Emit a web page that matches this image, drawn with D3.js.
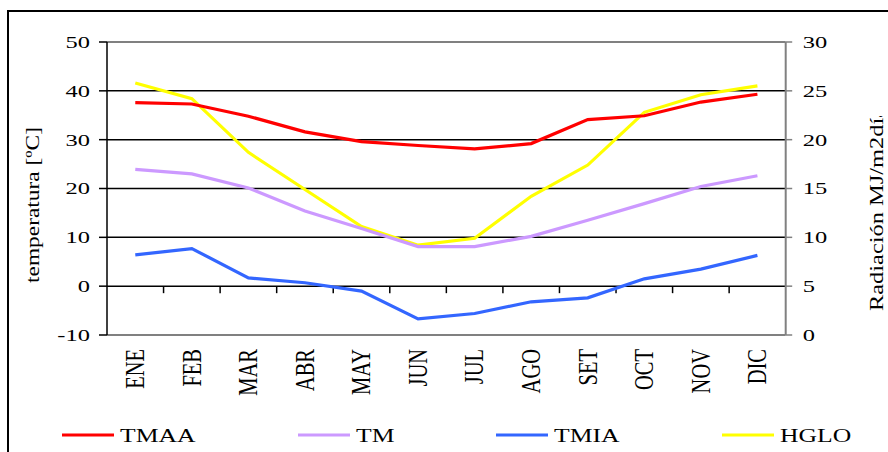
<!DOCTYPE html>
<html>
<head>
<meta charset="utf-8">
<script src="https://cdn.jsdelivr.net/npm/d3@7"></script>
<style>
  html, body { margin: 0; padding: 0; background: #fff; overflow: hidden; }
  svg { display: block; font-family: "Liberation Serif", "Times New Roman", serif; }
</style>
</head>
<body>
<svg id="chart" width="888" height="452"></svg>
<script>
// Monthly climate series
const months = ["ENE","FEB","MAR","ABR","MAY","JUN","JUL","AGO","SET","OCT","NOV","DIC"];
const tmaa = [37.6, 37.3, 34.8, 31.6, 29.6, 28.8, 28.1, 29.2, 34.1, 34.9, 37.7, 39.3];
const tm   = [23.9, 23.0, 20.1, 15.4, 11.8, 8.1, 8.1, 10.2, 13.5, 16.9, 20.4, 22.6];
const tmia = [6.4, 7.7, 1.7, 0.7, -1.0, -6.7, -5.6, -3.2, -2.4, 1.5, 3.5, 6.3];
const hglo = [25.8, 24.2, 18.7, 14.9, 11.1, 9.2, 9.9, 14.2, 17.4, 22.8, 24.6, 25.5];

const leftTicks = [-10, 0, 10, 20, 30, 40, 50];
const rightTicks = [0, 5, 10, 15, 20, 25, 30];

const series = [
  { name: "TMAA", values: tmaa, color: "#FF0000", axis: "left" },
  { name: "TM",   values: tm,   color: "#CC99FF", axis: "left" },
  { name: "TMIA", values: tmia, color: "#3366FF", axis: "left" },
  { name: "HGLO", values: hglo, color: "#FFFF00", axis: "right" }
];

const svg = d3.select("#chart");
const plot = { left: 107, right: 785.7, top: 42, bottom: 335 };

const x = d3.scaleBand().domain(months).range([plot.left, plot.right]).padding(0);
const yL = d3.scaleLinear().domain([-10, 50]).range([plot.bottom, plot.top]);
const yR = d3.scaleLinear().domain([0, 30]).range([plot.bottom, plot.top]);
const cx = m => x(m) + x.bandwidth() / 2;

// outer frame
svg.append("rect")
  .attr("x", 8).attr("y", 11).attr("width", 900).attr("height", 470)
  .attr("fill", "none").attr("stroke", "#000").attr("stroke-width", 2);

// horizontal gridlines
svg.append("g").selectAll("line")
  .data(leftTicks)
  .join("line")
  .attr("x1", plot.left).attr("x2", plot.right)
  .attr("y1", d => yL(d)).attr("y2", d => yL(d))
  .attr("stroke", d => (d === 50 || d === -10) ? "#808080" : "#000")
  .attr("stroke-width", d => (d === 50 || d === -10) ? 2 : 1.5);

// right axis line and ticks
svg.append("line")
  .attr("x1", plot.right).attr("x2", plot.right)
  .attr("y1", plot.top).attr("y2", plot.bottom)
  .attr("stroke", "#808080").attr("stroke-width", 2);
svg.append("g").selectAll("line")
  .data(rightTicks)
  .join("line")
  .attr("x1", plot.right).attr("x2", plot.right + 6.5)
  .attr("y1", d => yR(d)).attr("y2", d => yR(d))
  .attr("stroke", "#808080").attr("stroke-width", 1.5);

// left axis line and ticks
svg.append("line")
  .attr("x1", plot.left).attr("x2", plot.left)
  .attr("y1", plot.top).attr("y2", plot.bottom)
  .attr("stroke", "#000").attr("stroke-width", 1.5);
svg.append("g").selectAll("line")
  .data(leftTicks)
  .join("line")
  .attr("x1", plot.left - 8).attr("x2", plot.left)
  .attr("y1", d => yL(d)).attr("y2", d => yL(d))
  .attr("stroke", "#000").attr("stroke-width", 1.5);

// category ticks on the zero line
const bounds = months.slice(1).map(m => x(m));
svg.append("g").selectAll("line")
  .data(bounds)
  .join("line")
  .attr("x1", d => d).attr("x2", d => d)
  .attr("y1", yL(0)).attr("y2", yL(0) + 7)
  .attr("stroke", "#000").attr("stroke-width", 1.5);

// left tick labels
svg.append("g").selectAll("text")
  .data(leftTicks)
  .join("text")
  .attr("transform", d => `translate(${plot.left - 17},${yL(d)}) scale(1.4,1)`)
  .attr("text-anchor", "end").attr("dy", "0.34em")
  .attr("font-size", 17.5)
  .text(d => d);

// right tick labels
svg.append("g").selectAll("text")
  .data(rightTicks)
  .join("text")
  .attr("transform", d => `translate(${plot.right + 17},${yR(d)}) scale(1.4,1)`)
  .attr("text-anchor", "start").attr("dy", "0.34em")
  .attr("font-size", 17.5)
  .text(d => d);

// month labels
svg.append("g").selectAll("text")
  .data(months)
  .join("text")
  .attr("transform", d => `translate(${cx(d)},349) scale(1.3,1) rotate(-90)`)
  .attr("text-anchor", "end").attr("y", "0.33em")
  .attr("font-size", 20.5)
  .text(d => d);

// axis titles
svg.append("text")
  .attr("transform", "translate(38.5,205) rotate(-90)")
  .attr("text-anchor", "middle")
  .attr("font-size", 19)
  .attr("textLength", 156).attr("lengthAdjust", "spacingAndGlyphs")
  .text("temperatura [ºC]");

svg.append("clipPath").attr("id", "rtitle-clip")
  .append("rect").attr("x", 840).attr("y", 116).attr("width", 60).attr("height", 300);
svg.append("g").attr("clip-path", "url(#rtitle-clip)")
  .append("text")
  .attr("transform", "translate(883,311) rotate(-90)")
  .attr("text-anchor", "start")
  .attr("font-size", 19)
  .attr("textLength", 204).attr("lengthAdjust", "spacingAndGlyphs")
  .text("Radiación MJ/m2día");

// series lines
const lineFor = s => d3.line()
  .x((v, i) => cx(months[i]))
  .y(v => s.axis === "left" ? yL(v) : yR(v));

svg.append("g").selectAll("path")
  .data([series[3], series[1], series[2], series[0]])
  .join("path")
  .attr("d", s => lineFor(s)(s.values))
  .attr("fill", "none")
  .attr("stroke", s => s.color)
  .attr("stroke-width", 3.2)
  .attr("stroke-linejoin", "miter");

// legend
const legendX = [62, 298, 496, 722];
const legend = svg.append("g").selectAll("g")
  .data(series)
  .join("g")
  .attr("transform", (s, i) => `translate(${legendX[i]},435)`);
legend.append("line")
  .attr("x1", 0).attr("x2", 52).attr("y1", 0).attr("y2", 0)
  .attr("stroke", s => s.color).attr("stroke-width", 3.2);
legend.append("text")
  .attr("transform", "translate(58,6.7) scale(1.35,1)")
  .attr("font-size", 19)
  .text(s => s.name);
</script>
</body>
</html>
